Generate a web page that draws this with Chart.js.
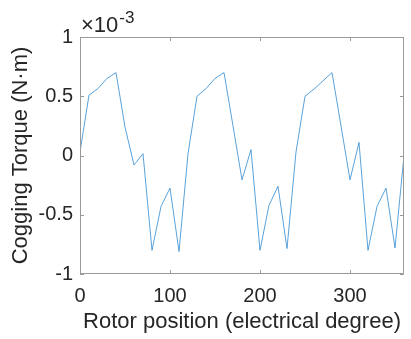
<!DOCTYPE html>
<html>
<head>
<meta charset="utf-8">
<script src="https://cdn.jsdelivr.net/npm/chart.js@4/dist/chart.umd.min.js"></script>
<style>
    html, body { margin: 0; padding: 0; background: #ffffff; }
    #wrap { width: 411px; height: 339px; }
</style>
</head>
<body>
<div id="wrap"><canvas id="torque" width="411" height="339"></canvas></div>
<script>
// Rotor position, electrical degrees (10 degree steps)
const rotorPos = [0, 10, 20, 30, 40, 50, 60, 70, 80, 90, 100, 110, 120, 130, 140, 150, 160, 170, 180,
    190, 200, 210, 220, 230, 240, 250, 260, 270, 280, 290, 300, 310, 320, 330, 340, 350, 360];

// Cogging torque in units of 1e-3 N·m
const torqueE3 = [0.03, 0.51, 0.565, 0.65, 0.70, 0.24, -0.08, 0.015, -0.80, -0.43, -0.275, -0.81, 0.015,
    0.50, 0.565, 0.65, 0.70, 0.25, -0.205, 0.05, -0.80, -0.42, -0.26, -0.785, 0.03,
    0.50, 0.56, 0.63, 0.70, 0.25, -0.205, 0.11, -0.80, -0.43, -0.275, -0.78, 0.0];

const xTicks = [0, 100, 200, 300];
const yTicks = [-1, -0.5, 0, 0.5, 1];

const AXIS_COLOR = '#9a9a9a';
const TEXT_COLOR = '#262626';
const FONT = '"Liberation Sans", Arial, Helvetica, sans-serif';

// box around the plot, inward tick marks on all four sides, and the exponent label
const matlabAxes = {
    id: 'matlabAxes',
    afterDatasetsDraw(chart) {
        const { ctx, chartArea: a, scales } = chart;
        const len = 4;
        ctx.save();
        ctx.strokeStyle = AXIS_COLOR;
        ctx.lineWidth = 1;
        ctx.beginPath();
        ctx.rect(a.left + 0.5, a.top + 0.5, a.right - a.left - 1, a.bottom - a.top - 1);
        xTicks.forEach(v => {
            const px = Math.round(scales.x.getPixelForValue(v)) + 0.5;
            ctx.moveTo(px, a.bottom);
            ctx.lineTo(px, a.bottom - len);
            ctx.moveTo(px, a.top);
            ctx.lineTo(px, a.top + len);
        });
        yTicks.forEach(v => {
            const py = Math.round(scales.y.getPixelForValue(v)) + 0.5;
            ctx.moveTo(a.left, py);
            ctx.lineTo(a.left + len, py);
            ctx.moveTo(a.right, py);
            ctx.lineTo(a.right - len, py);
        });
        ctx.stroke();

        ctx.fillStyle = TEXT_COLOR;
        ctx.textBaseline = 'alphabetic';
        ctx.textAlign = 'left';
        ctx.font = '22px ' + FONT;
        ctx.fillText('\u00d710', a.left + 1, a.top - 5);
        const w = ctx.measureText('\u00d710').width;
        ctx.font = '17px ' + FONT;
        ctx.fillText('-3', a.left + 2 + w, a.top - 14);
        ctx.restore();
    }
};

new Chart(document.getElementById('torque'), {
    type: 'line',
    data: {
        labels: rotorPos,
        datasets: [{
            data: rotorPos.map((x, i) => ({ x: x, y: torqueE3[i] })),
            borderColor: '#2f8ad0',
            borderWidth: 0.8,
            pointRadius: 0,
            tension: 0,
            fill: false
        }]
    },
    options: {
        responsive: false,
        animation: false,
        layout: { padding: { top: 37, right: 7, left: 0, bottom: 0 } },
        plugins: {
            legend: { display: false },
            tooltip: { enabled: false }
        },
        scales: {
            x: {
                type: 'linear',
                min: 0,
                max: 360,
                afterBuildTicks: s => { s.ticks = xTicks.map(v => ({ value: v })); },
                afterFit: s => { s.height = 65; },
                grid: { display: false, drawTicks: false },
                border: { display: false },
                ticks: {
                    padding: 10,
                    maxRotation: 0,
                    color: TEXT_COLOR,
                    font: { family: FONT, size: 20 },
                    callback: v => String(v)
                },
                title: {
                    display: true,
                    text: 'Rotor position (electrical degree)',
                    color: TEXT_COLOR,
                    font: { family: FONT, size: 22 },
                    padding: { top: 0, bottom: 4 }
                }
            },
            y: {
                type: 'linear',
                min: -1,
                max: 1,
                afterBuildTicks: s => { s.ticks = yTicks.map(v => ({ value: v })); },
                afterFit: s => { s.width = 80; },
                grid: { display: false, drawTicks: false },
                border: { display: false },
                ticks: {
                    padding: 7,
                    color: TEXT_COLOR,
                    font: { family: FONT, size: 20 },
                    callback: v => String(v)
                },
                title: {
                    display: true,
                    text: 'Cogging Torque (N\u00b7m)',
                    color: TEXT_COLOR,
                    font: { family: FONT, size: 22 },
                    padding: { top: 8, bottom: 0 }
                }
            }
        }
    },
    plugins: [matlabAxes]
});
</script>
</body>
</html>
